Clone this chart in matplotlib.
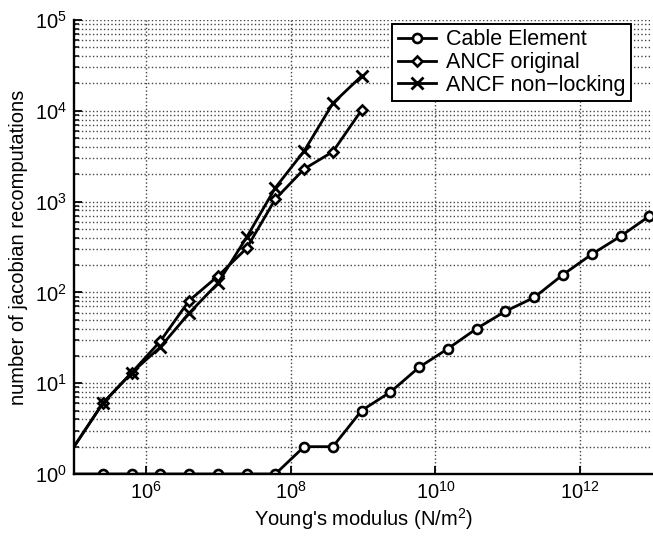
import matplotlib
matplotlib.use("Agg")
import matplotlib.pyplot as plt
from matplotlib.ticker import LogLocator, NullLocator, FixedLocator, NullFormatter

plt.rcParams['font.family'] = ['Liberation Sans', 'DejaVu Sans']
plt.rcParams['mathtext.fontset'] = 'custom'
plt.rcParams['mathtext.rm'] = 'Liberation Sans'
plt.rcParams['mathtext.it'] = 'Liberation Sans:italic'
plt.rcParams['mathtext.default'] = 'regular'

# Young's modulus values (N/m^2)
E_cable = [1e5, 2.5e5, 6.25e5, 1.5625e6, 3.906e6, 9.766e6, 2.441e7, 6.104e7,
           1.526e8, 3.815e8, 9.537e8, 2.384e9, 5.960e9, 1.490e10, 3.725e10,
           9.313e10, 2.328e11, 5.821e11, 1.455e12, 3.638e12, 9.095e12]
cable = [1, 1, 1, 1, 1, 1, 1, 1, 2, 2, 5, 8, 15, 24, 40, 62, 88, 157, 263, 415, 693]

E_ancf = [1e5, 2.5e5, 6.25e5, 1.5625e6, 3.906e6, 9.766e6, 2.441e7, 6.104e7,
          1.526e8, 3.815e8, 9.537e8]
ancf_orig = [2, 6, 13, 29, 81, 151, 306, 1068, 2286, 3548, 10200]
ancf_nonlock = [2, 6, 13, 25, 59, 126, 404, 1422, 3606, 12100, 24200]

labels = ['Cable Element', 'ANCF original', 'ANCF non\u2212locking']
xticks = [1e6, 1e8, 1e10, 1e12]
xticklabels = ['$10^{6}$', '$10^{8}$', '$10^{10}$', '$10^{12}$']
yticks = [1e0, 1e1, 1e2, 1e3, 1e4, 1e5]
yticklabels = ['$10^{0}$', '$10^{1}$', '$10^{2}$', '$10^{3}$', '$10^{4}$', '$10^{5}$']

fig = plt.figure(figsize=(6.53, 5.43), dpi=100)
ax = fig.add_axes([74/653, 1 - 474/543, (652.3 - 74)/653, (474 - 20)/543])

lw = 2.0
ax.plot(E_cable, cable, '-', color='k', lw=lw, marker='o', ms=6.5, mfc='w',
        mec='k', mew=1.9, markevery=list(range(1, len(E_cable))), label=labels[0])
ax.plot(E_ancf, ancf_orig, '-', color='k', lw=lw, marker='D', ms=5.0, mfc='w',
        mec='k', mew=1.9, markevery=list(range(1, len(E_ancf))), label=labels[1])
ax.plot(E_ancf, ancf_nonlock, '-', color='k', lw=lw, marker='x', ms=9, mec='k',
        mew=2.0, markevery=list(range(1, len(E_ancf))), label=labels[2])

ax.set_xscale('log')
ax.set_yscale('log')
ax.set_xlim(1e5, 1e13)
ax.set_ylim(1e0, 1e5)

ax.xaxis.set_major_locator(FixedLocator(xticks))
ax.set_xticklabels(xticklabels)
ax.xaxis.set_minor_locator(NullLocator())
ax.yaxis.set_major_locator(FixedLocator(yticks))
ax.set_yticklabels(yticklabels)
ax.yaxis.set_minor_locator(LogLocator(base=10, subs=[2, 3, 4, 5, 6, 7, 8, 9]))
ax.yaxis.set_minor_formatter(NullFormatter())

ax.tick_params(which='major', direction='in', length=6, width=1.3, labelsize=14.5,
               top=False, right=False, pad=5)
ax.tick_params(which='minor', direction='in', length=3.5, width=1.1,
               top=False, right=False)

ax.grid(True, which='major', axis='both', linestyle=':', color='#444444', lw=1.0)
ax.grid(True, which='minor', axis='y', linestyle=':', color='#444444', lw=1.0)

for s in ['top', 'right']:
    ax.spines[s].set_visible(False)
for s in ['left', 'bottom']:
    ax.spines[s].set_linewidth(1.7)

ax.set_xlabel("Young's modulus (N/m$^{2}$)", fontsize=14.5, labelpad=2)
ax.set_ylabel('number of jacobian recomputations', fontsize=14.5, labelpad=5)

leg = ax.legend(loc='upper right', bbox_to_anchor=(0.963, 0.991), borderaxespad=0,
                fontsize=15.5, frameon=True, fancybox=False, framealpha=1,
                edgecolor='k', handlelength=1.8, handletextpad=0.45,
                labelspacing=0.08, borderpad=0.25)
leg.get_frame().set_linewidth(1.4)

fig.savefig('out.png', dpi=100)
